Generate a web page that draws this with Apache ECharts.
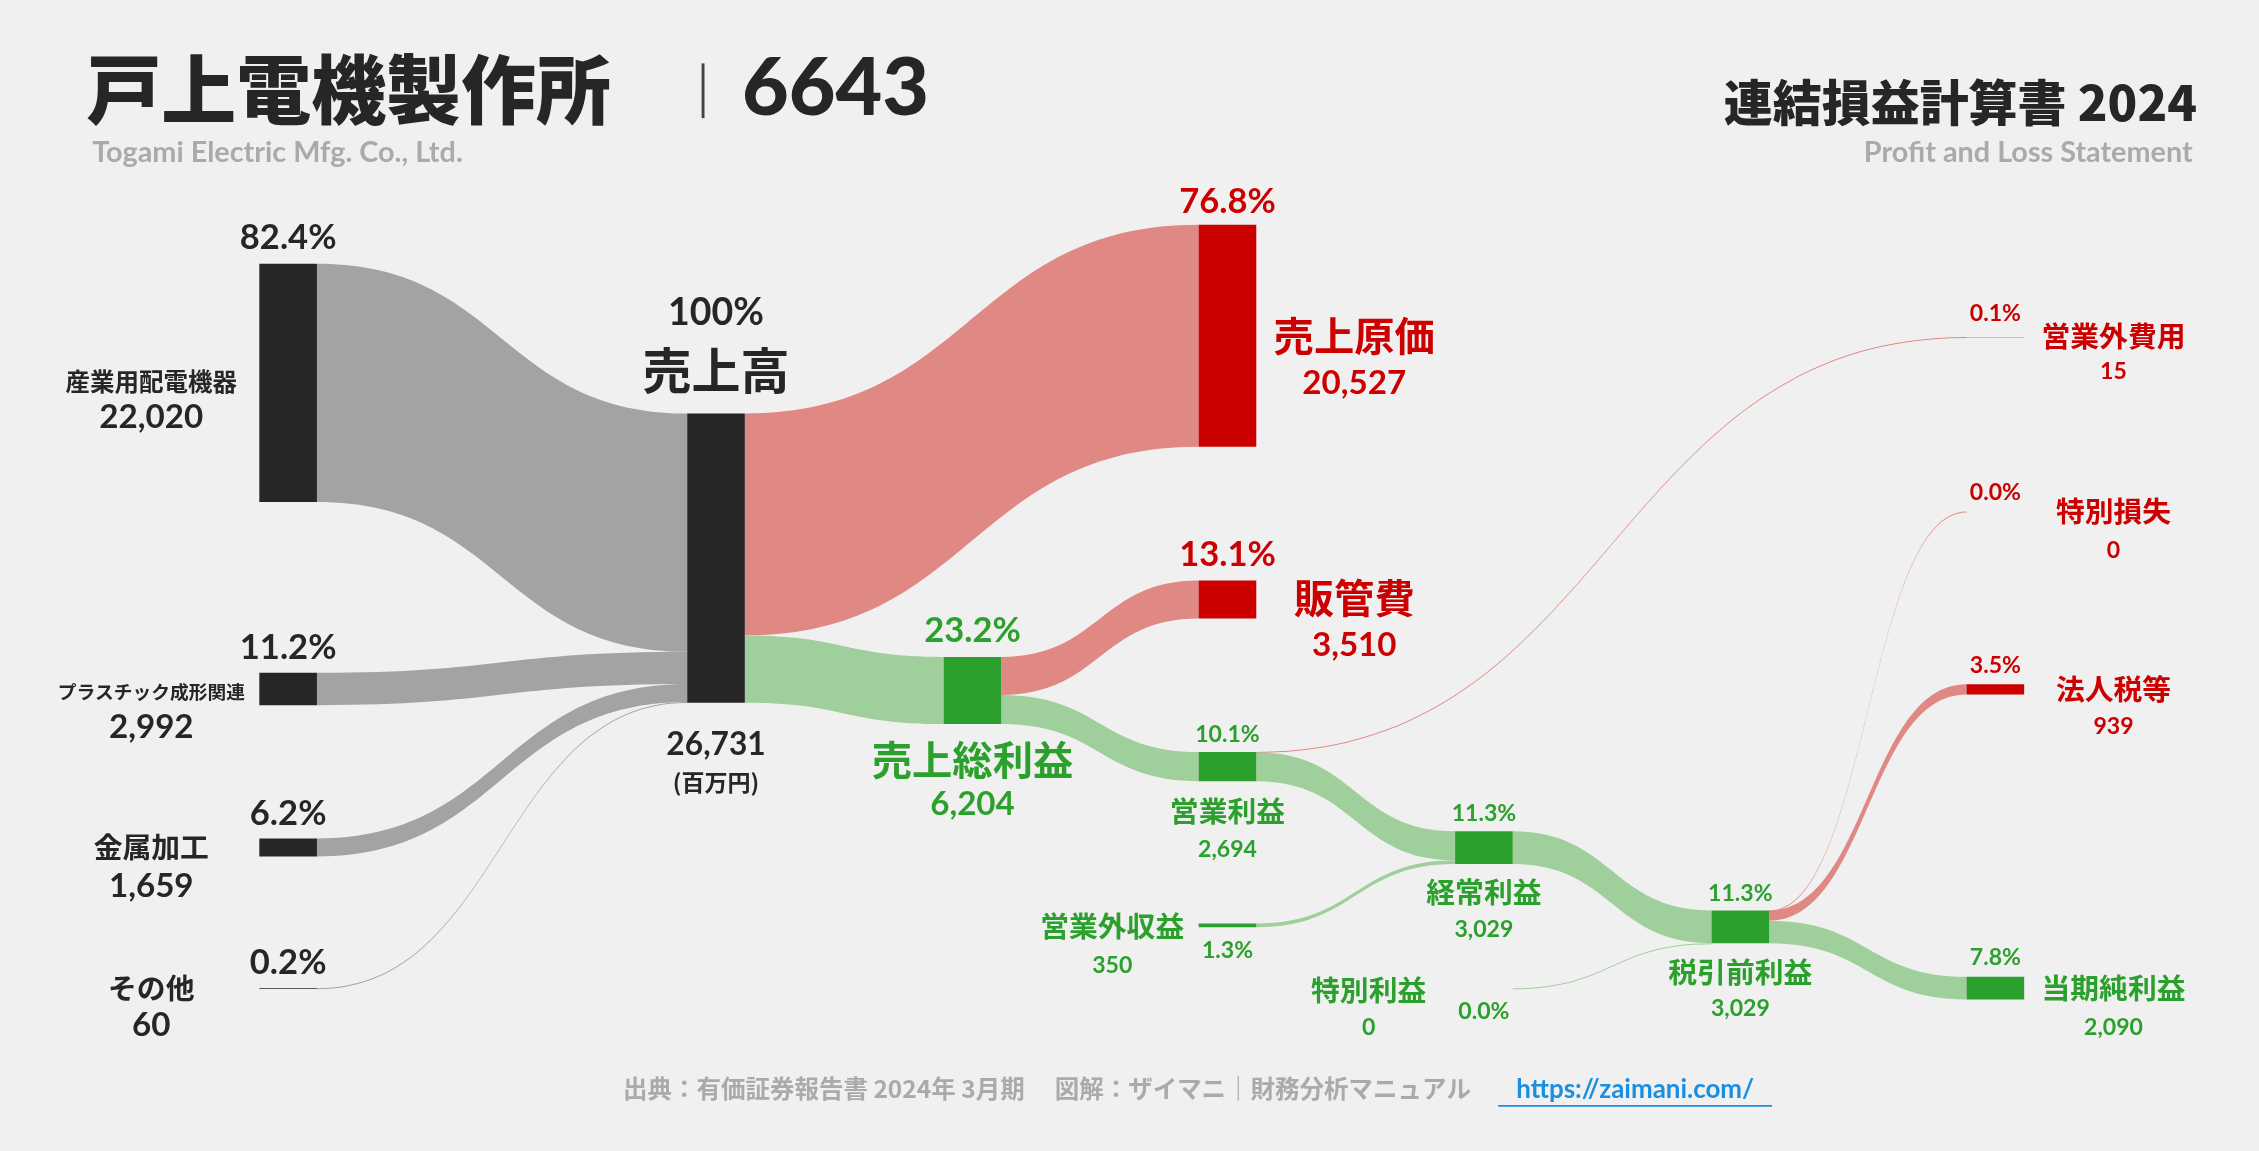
<!DOCTYPE html>
<html>
<head>
<meta charset="utf-8">
<script src="https://cdn.jsdelivr.net/npm/echarts@6/dist/echarts.min.js"></script>
<style>
  html, body { margin: 0; padding: 0; background: #f0f0f0; }
  #main { width: 2259px; height: 1151px; }
</style>
</head>
<body>
<div id="main"></div>
<script>
// 連結損益計算書 2024（百万円）
var segments = ['産業用配電機器', 'プラスチック成形関連', '金属加工', 'その他'];
var segmentValues = [22020, 2992, 1659, 60];
var sales = 26731;
var costNames = ['売上原価', '販管費', '営業外費用', '特別損失', '法人税等'];
var costValues = [20527, 3510, 15, 0, 939];
var profitNames = ['売上総利益', '営業利益', '経常利益', '税引前利益', '当期純利益'];
var profitValues = [6204, 2694, 3029, 3029, 2090];
var incomeNames = ['営業外収益', '特別利益'];
var incomeValues = [350, 0];

var DARK = '#262626', RED = '#cc0000', GREEN = '#2ca02c';
var GRAY_L = '#a3a3a3', RED_L = '#e08884', GREEN_L = '#9fcf9a';

// 表示座標（1568x799 基準）→ 実座標
var S = 2259 / 1568;
var W = 2259, H = 1151;

// node layout: [name, left x, top y, depth, color]
var nodeLayout = [
  ['産業用配電機器', 180, 183, 0, DARK],
  ['プラスチック成形関連', 180, 467, 0, DARK],
  ['金属加工', 180, 582, 0, DARK],
  ['その他', 180, 686, 0, DARK],
  ['売上高', 477, 287, 1, DARK],
  ['売上総利益', 655, 456, 2, GREEN],
  ['売上原価', 832, 156, 3, RED],
  ['販管費', 832, 403, 3, RED],
  ['営業利益', 832, 522, 3, GREEN],
  ['営業外収益', 832, 641, 3, GREEN],
  ['経常利益', 1010, 577, 4, GREEN],
  ['特別利益', 1010, 686, 4, GREEN],
  ['税引前利益', 1188, 632, 5, GREEN],
  ['営業外費用', 1365, 234, 6, RED],
  ['特別損失', 1365, 355, 6, RED],
  ['法人税等', 1365, 475, 6, RED],
  ['当期純利益', 1365, 678, 6, GREEN]
];

var nodes = nodeLayout.map(function (n) {
  return {
    name: n[0], depth: n[3],
    localX: n[1] * S / W, localY: n[2] * S / H,
    itemStyle: { color: n[4] }
  };
});

var links = [];
segments.forEach(function (s, i) {
  links.push({ source: s, target: '売上高', value: segmentValues[i], lineStyle: { color: GRAY_L } });
});
function L(s, t, v, c) { links.push({ source: s, target: t, value: v, lineStyle: { color: c } }); }
L('売上高', '売上原価', costValues[0], RED_L);
L('売上高', '売上総利益', profitValues[0], GREEN_L);
L('売上総利益', '販管費', costValues[1], RED_L);
L('売上総利益', '営業利益', profitValues[1], GREEN_L);
L('営業利益', '営業外費用', costValues[2], RED_L);
L('営業利益', '経常利益', profitValues[1] - costValues[2], GREEN_L);
L('営業外収益', '経常利益', incomeValues[0], GREEN_L);
L('経常利益', '税引前利益', profitValues[2], GREEN_L);
L('特別利益', '税引前利益', incomeValues[1], GREEN_L);
L('税引前利益', '特別損失', costValues[3], RED_L);
L('税引前利益', '法人税等', costValues[4], RED_L);
L('税引前利益', '当期純利益', profitValues[4], GREEN_L);

function fmt(v) { return v.toLocaleString('en-US'); }
function pct(v) { return (v / sales * 100).toFixed(1) + '%'; }

var valueOf = {};
segments.forEach(function (s, i) { valueOf[s] = segmentValues[i]; });
costNames.forEach(function (s, i) { valueOf[s] = costValues[i]; });
profitNames.forEach(function (s, i) { valueOf[s] = profitValues[i]; });
incomeNames.forEach(function (s, i) { valueOf[s] = incomeValues[i]; });
valueOf['売上高'] = sales;

// label layout: [node, pct x, pct y, name x, name y, value x, value y, name size, big, color]
var labelLayout = [
  ['産業用配電機器', 200, 165, 105, 265, 105, 290, 17, 1, DARK],
  ['プラスチック成形関連', 200, 450, 105, 480, 105, 505, 13, 1, DARK],
  ['金属加工', 200, 565, 105, 588, 105, 615, 20, 1, DARK],
  ['その他', 200, 668, 105, 686, 105, 712, 20, 1, DARK],
  ['売上原価', 852, 140, 940, 233, 940, 266, 28, 1, RED],
  ['販管費', 852, 385, 940, 415, 940, 448, 28, 1, RED],
  ['売上総利益', 675, 438, 675, 527, 675, 558, 28, 1, GREEN],
  ['営業利益', 852, 510, 852, 563, 852, 590, 20, 0, GREEN],
  ['営業外収益', 852, 660, 772, 643, 772, 670, 20, 0, GREEN],
  ['経常利益', 1030, 565, 1030, 619, 1030, 645, 20, 0, GREEN],
  ['特別利益', 1030, 702, 950, 687, 950, 713, 20, 0, GREEN],
  ['税引前利益', 1208, 620, 1208, 675, 1208, 700, 20, 0, GREEN],
  ['営業外費用', 1385, 218, 1467, 233, 1467, 258, 20, 0, RED],
  ['特別損失', 1385, 342, 1467, 355, 1467, 382, 20, 0, RED],
  ['法人税等', 1385, 462, 1467, 478, 1467, 504, 20, 0, RED],
  ['当期純利益', 1385, 665, 1467, 686, 1467, 713, 20, 0, GREEN]
];

var JP = '"Noto Sans CJK JP", sans-serif';
var NUM = 'Lato, "Noto Sans CJK JP", sans-serif';
function txt(x, y, s, size, color, font, align, weight) {
  return {
    type: 'text', x: x * S, y: y * S, z: 100,
    style: {
      text: s, fill: color, fontSize: size * S, fontFamily: font || JP,
      fontWeight: weight || 'bold', align: align || 'center', verticalAlign: 'middle'
    }
  };
}

var graphics = [];
labelLayout.forEach(function (l) {
  var v = valueOf[l[0]];
  var ps = l[8] ? 24 : 16, vs = l[8] ? 23 : 16;
  graphics.push(txt(l[1], l[2], pct(v), ps, l[9], NUM));
  graphics.push(txt(l[3], l[4], l[0], l[7], l[9], JP));
  graphics.push(txt(l[5], l[6], fmt(v), vs, l[9], NUM));
});
graphics.push(txt(497, 217, '100%', 26, DARK, NUM));
graphics.push(txt(497, 257, '売上高', 34, DARK, JP));
graphics.push(txt(497, 517, fmt(sales), 22, DARK, NUM));
graphics.push(txt(497, 543, '(百万円)', 16, DARK, JP));

// titles
graphics.push(txt(60, 62, '戸上電機製作所', 52, DARK, JP, 'left', 900));
graphics.push({ type: 'rect', z: 100, shape: { x: 487 * S, y: 44 * S, width: 2 * S, height: 38 * S }, style: { fill: '#444' } });
graphics.push(txt(515, 62, '6643', 56, DARK, NUM, 'left', 900));
graphics.push(txt(64, 106, 'Togami Electric Mfg. Co., Ltd.', 20, '#aaaaaa', NUM, 'left'));
graphics.push(txt(1525, 71, '連結損益計算書 2024', 34, DARK, JP, 'right', 900));
graphics.push(txt(1522, 106, 'Profit and Loss Statement', 20, '#aaaaaa', NUM, 'right'));
graphics.push(txt(1021, 756, '出典：有価証券報告書 2024年 3月期　 図解：ザイマニ｜財務分析マニュアル', 17, '#aaaaaa', JP, 'right'));
graphics.push(txt(1135, 756, 'https://zaimani.com/', 18, '#1a8fe0', NUM, 'center'));
graphics.push({ type: 'rect', z: 100, shape: { x: 1040 * S, y: 767 * S, width: 190 * S, height: 1.2 * S }, style: { fill: '#1a8fe0' } });

var chart = echarts.init(document.getElementById('main'));
chart.setOption({
  backgroundColor: '#f0f0f0',
  animation: false,
  graphic: graphics,
  series: [{
    type: 'sankey',
    left: 0, top: 0, right: 0, bottom: 0,
    nodeWidth: 40 * S,
    nodeGap: 286,
    layoutIterations: 0,
    nodeAlign: 'justify',
    draggable: false,
    label: { show: false },
    emphasis: { disabled: true },
    lineStyle: { curveness: 0.5, opacity: 1 },
    data: nodes,
    links: links
  }]
});
</script>
</body>
</html>
